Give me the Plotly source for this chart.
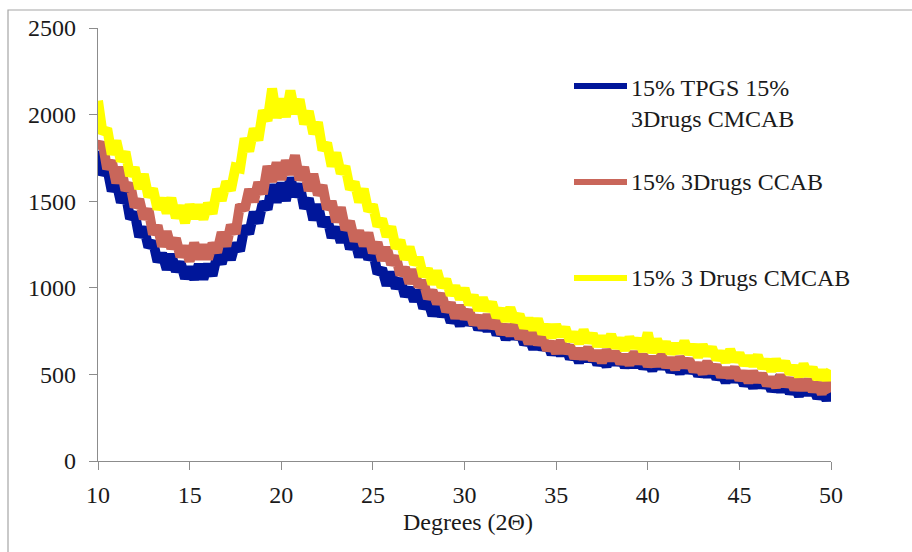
import plotly.graph_objects as go

# ---- data (2-theta grid every 0.25 degree, 10..50) ----
two_theta = [round(10 + 0.25 * i, 2) for i in range(161)]

series_names = ["15% TPGS 15%<br>3Drugs CMCAB", "15% 3Drugs CCAB", "15% 3 Drugs CMCAB"]
series_colors = ["#00169A", "#C9665A", "#FFFF00"]

tpgs_3drugs_cmcab = [
    1792, 1653, 1693, 1559, 1611, 1493, 1550, 1399, 1435, 1294, 1350, 1235, 1268, 1151, 1199, 1106,
    1193, 1095, 1148, 1055, 1118, 1050, 1134, 1051, 1136, 1070, 1188, 1139, 1233, 1163, 1257, 1213,
    1356, 1313, 1437, 1374, 1497, 1453, 1596, 1494, 1606, 1502, 1636, 1526, 1599, 1459, 1516, 1391,
    1482, 1356, 1406, 1290, 1349, 1263, 1341, 1224, 1283, 1177, 1265, 1165, 1213, 1082, 1111, 1014,
    1090, 998, 1050, 952, 999, 924, 985, 882, 928, 839, 909, 837, 885, 801, 849, 782,
    861, 787, 834, 760, 811, 753, 814, 729, 777, 702, 772, 708, 752, 674, 714, 647,
    716, 645, 687, 617, 665, 611, 669, 591, 635, 569, 636, 579, 625, 557, 603, 547,
    621, 558, 604, 543, 593, 545, 605, 535, 585, 523, 590, 536, 582, 516, 560, 506,
    574, 512, 555, 493, 538, 490, 546, 474, 516, 455, 517, 462, 502, 439, 480, 424,
    488, 428, 468, 407, 450, 404, 458, 392, 434, 376, 438, 386, 427, 365, 406, 353,
    416,
]

drugs_ccab = [
    1798, 1840, 1687, 1734, 1605, 1697, 1563, 1603, 1466, 1510, 1398, 1455, 1309, 1359, 1239, 1325,
    1228, 1285, 1179, 1240, 1153, 1259, 1167, 1246, 1166, 1257, 1205, 1320, 1240, 1362, 1312, 1479,
    1450, 1568, 1497, 1608, 1542, 1702, 1613, 1722, 1625, 1734, 1655, 1764, 1622, 1697, 1560, 1657,
    1536, 1591, 1454, 1499, 1380, 1463, 1335, 1384, 1270, 1328, 1242, 1317, 1201, 1262, 1158, 1234,
    1134, 1182, 1074, 1117, 1025, 1105, 1006, 1041, 938, 984, 908, 966, 863, 912, 825, 897,
    823, 870, 789, 837, 769, 844, 768, 811, 734, 784, 726, 789, 707, 755, 678, 742,
    675, 718, 642, 686, 623, 694, 625, 666, 595, 645, 593, 656, 583, 634, 569, 640,
    584, 630, 564, 611, 556, 629, 565, 612, 549, 599, 551, 613, 543, 593, 530, 599,
    544, 587, 519, 562, 505, 574, 510, 552, 488, 533, 485, 540, 469, 516, 454, 516,
    460, 502, 439, 480, 428, 494, 434, 475, 415, 460, 414, 470, 404, 449, 389, 451,
    397,
]

drugs_cmcab = [
    2080, 1891, 1919, 1770, 1848, 1731, 1785, 1646, 1694, 1572, 1655, 1526, 1572, 1454, 1516, 1432,
    1518, 1403, 1473, 1375, 1480, 1401, 1478, 1396, 1488, 1429, 1570, 1504, 1612, 1563, 1695, 1689,
    1862, 1788, 1919, 1852, 2023, 1964, 2150, 1982, 2090, 1987, 2138, 2005, 2088, 1945, 2020, 1889,
    1955, 1795, 1836, 1702, 1779, 1661, 1701, 1569, 1610, 1495, 1571, 1444, 1479, 1356, 1397, 1297,
    1352, 1229, 1274, 1164, 1235, 1137, 1175, 1067, 1109, 1022, 1098, 1003, 1049, 958, 1009, 935,
    996, 903, 955, 870, 942, 869, 915, 830, 878, 808, 885, 806, 845, 770, 821, 759,
    820, 734, 785, 713, 785, 722, 770, 694, 741, 679, 756, 686, 733, 665, 717, 665,
    730, 654, 707, 640, 714, 655, 705, 634, 740, 625, 703, 636, 685, 621, 675, 626,
    691, 618, 669, 601, 670, 611, 655, 586, 630, 572, 643, 576, 621, 555, 603, 551,
    610, 537, 584, 520, 585, 528, 572, 504, 547, 490, 559, 495, 538, 475, 520, 471,
    526,
]

x_ticks = [10, 15, 20, 25, 30, 35, 40, 45, 50]
y_ticks = [0, 500, 1000, 1500, 2000, 2500]
x_title = "Degrees (2Θ)"

# ---- layout geometry (pixels) ----
W, H = 912, 552
L, R, T, B = 98, 81, 28, 91
PW, PH = W - L - R, H - T - B


def px_x(px):
    return (px - L) / PW


def px_y(py):
    return (H - B - py) / PH


FONT = "Liberation Serif, Times New Roman, serif"
AXIS_GRAY = "#8C8C8C"
TEXT = "#1a1a1a"

fig = go.Figure()
for name, color, vals in zip(series_names, series_colors,
                             [tpgs_3drugs_cmcab, drugs_ccab, drugs_cmcab]):
    fig.add_trace(go.Scatter(
        x=two_theta, y=vals, mode="lines", name=name.replace("<br>", " "),
        line=dict(color=color, width=10), showlegend=False,
    ))

# custom legend to match the original placement
legend_rows = [86, 182, 278]
legend_text_y = [103, 182, 278]
shapes = []
annotations = []
for name, color, ly, ty in zip(series_names, series_colors, legend_rows, legend_text_y):
    shapes.append(dict(type="line", xref="paper", yref="paper",
                       x0=px_x(574), x1=px_x(627), y0=px_y(ly), y1=px_y(ly),
                       line=dict(color=color, width=6)))
    annotations.append(dict(xref="paper", yref="paper", x=px_x(629), y=px_y(ty),
                            xanchor="left", yanchor="middle", align="left",
                            text=name, showarrow=False,
                            font=dict(family=FONT, size=24, color=TEXT)))

# x-axis title placed just under the tick labels
annotations.append(dict(xref="paper", yref="paper", x=px_x(468), y=px_y(522),
                        xanchor="center", yanchor="middle", text=x_title,
                        showarrow=False, font=dict(family=FONT, size=24, color=TEXT)))

# outer frame of the chart area (cut off at right/bottom like the original)
shapes.append(dict(type="rect", xref="paper", yref="paper",
                   x0=px_x(8), x1=px_x(930), y0=px_y(570), y1=px_y(10),
                   line=dict(color="#A6A6A6", width=1.2), fillcolor="rgba(0,0,0,0)",
                   layer="below"))

fig.update_layout(
    width=W, height=H,
    margin=dict(l=L, r=R, t=T, b=B),
    paper_bgcolor="white", plot_bgcolor="white",
    font=dict(family=FONT, size=24, color=TEXT),
    shapes=shapes, annotations=annotations,
    xaxis=dict(range=[10, 50], tickmode="array", tickvals=x_ticks,
               showgrid=False, zeroline=False, showline=True,
               linecolor=AXIS_GRAY, linewidth=1.2,
               ticks="outside", ticklen=8, tickcolor=AXIS_GRAY, tickwidth=1.2,
               ticklabelstandoff=4,
               tickfont=dict(family=FONT, size=24, color=TEXT)),
    yaxis=dict(range=[0, 2500], tickmode="array", tickvals=y_ticks,
               showgrid=False, zeroline=False, showline=True,
               linecolor=AXIS_GRAY, linewidth=1.2,
               ticks="outside", ticklen=8, tickcolor=AXIS_GRAY, tickwidth=1.2,
               ticklabelstandoff=8,
               tickfont=dict(family=FONT, size=24, color=TEXT)),
)

fig.write_html("out.html")
